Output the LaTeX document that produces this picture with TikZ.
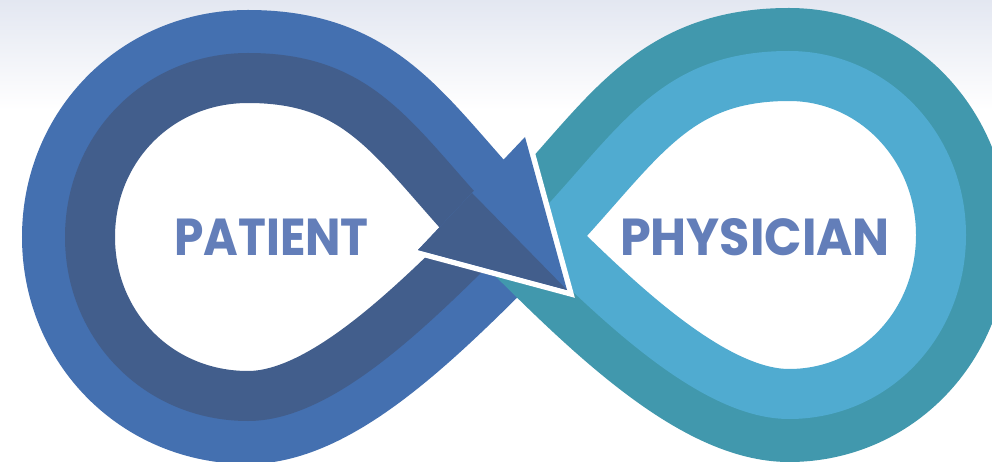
\documentclass[tikz,border=0pt]{standalone}
\usepackage{fontspec}
\usepackage{graphicx}
\newfontfamily\labelfont{Poppins}
\definecolor{blueOuter}{HTML}{4470B0}
\definecolor{blueInner}{HTML}{425E8C}
\definecolor{tealOuter}{HTML}{4198AD}
\definecolor{tealInner}{HTML}{50ABD0}
\definecolor{labelcol}{HTML}{637EB9}
\definecolor{bgtop}{HTML}{E3E7F1}
\def\leftpath{(517,237) .. controls (418,138) and (385,53) .. (248,53) .. controls (145,53) and (65,134) .. (65,237) .. controls (65,340) and (145,421) .. (248,421) .. controls (335,421) and (432,322) .. cycle}
\def\rightpath{(517,237) .. controls (616,138) and (652,51) .. (789,51) .. controls (888,51) and (966,134) .. (966,235) .. controls (966,338) and (888,419) .. (789,419) .. controls (702,419) and (602,322) .. cycle}
\begin{document}
\begin{tikzpicture}[x=1pt,y=-1pt,line join=miter,
  labeltext/.style={font=\labelfont\bfseries\fontsize{52}{52}\selectfont,text=labelcol,anchor=base,inner sep=0pt},
  outerband/.style={line width=86pt},
  innerband/.style={line width=100pt}]
\useasboundingbox (0,0) rectangle (992,462);
\shade[top color=bgtop,bottom color=white] (0,0) rectangle (992,110);
\fill[white] (0,109) rectangle (992,462);
% left loop
\fill[white] \leftpath;
\draw[blueOuter,outerband] \leftpath;
\begin{scope}
\clip \leftpath;
\draw[blueInner,innerband] \leftpath;
\end{scope}
% right loop
\fill[white] \rightpath;
\draw[tealOuter,outerband] \rightpath;
\begin{scope}
\clip \rightpath;
\draw[tealInner,innerband] \rightpath;
\end{scope}
% arrow head
\coordinate (b1) at (525,137);
\coordinate (tip) at (567,290);
\coordinate (b2) at (418,250);
\coordinate (m) at (472,193);
\draw[white,line width=11pt] (b1) -- (tip) -- (b2);
\fill[blueOuter] (b1) -- (tip) -- (b2) -- cycle;
\fill[blueInner] (m) -- (tip) -- (b2) -- cycle;
% labels
\node[labeltext] (patient) at (271.5,255) {\scalebox{0.906}[1]{PATIENT}};
\node[labeltext] (physician) at (755,255) {\scalebox{0.947}[1]{PHYSICIAN}};
\end{tikzpicture}
\end{document}
